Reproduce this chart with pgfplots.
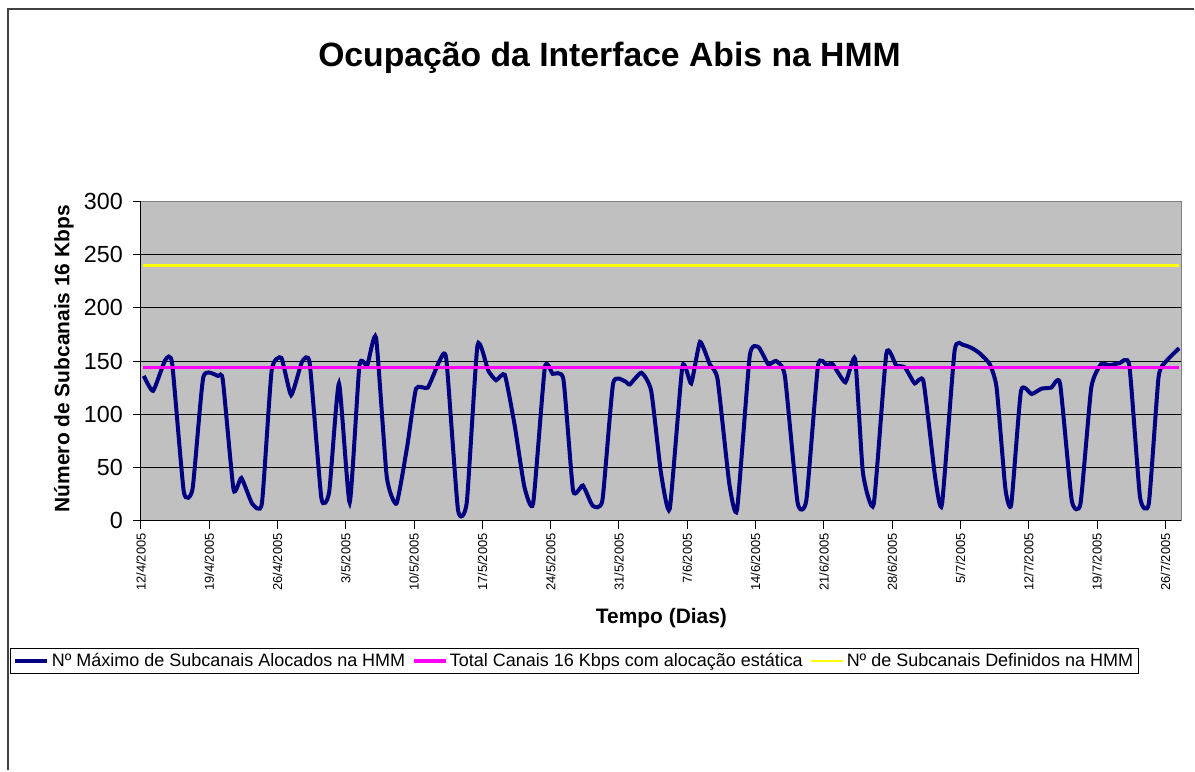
\documentclass[border=0pt]{standalone}
\usepackage{fontspec}
\setmainfont{Liberation Sans}
\usepackage{pgfplots}
\usepackage{pgfplotstable}
\pgfplotsset{compat=1.18}
\definecolor{navyc}{RGB}{0,0,128}
\definecolor{plotbg}{RGB}{192,192,192}
\definecolor{framec}{RGB}{64,64,64}
\definecolor{magc}{RGB}{255,0,255}
\definecolor{yelc}{RGB}{255,255,0}

\pgfplotstableread{
x y
0.3 136
1.25 122
2.5 151
3.2 148
4.4 27
5.3 30
6.4 135
7.9 136
8.4 132
9.5 29
10.3 40
11.4 16
12.4 16
13.4 141
14.4 153
15.4 118
16.5 149
17.3 148
18.5 21
19.3 27
20.3 129
21.4 17
22.4 146
23.2 146
24.1 172
25.2 41
26.2 16
27.3 70
28.2 124
29.4 125
30.6 150
31.3 152
32.5 10
33.4 17
34.5 165
35.6 141
36.4 132
37.3 137
38.3 90
39.3 32
40.2 16
41.4 144
42.2 138
43.3 133
44.3 28
45.3 33
46.3 14
47.3 19
48.4 129
49.6 131
50.1 128
51.3 139
52.3 122
53.3 45
54.2 11
55.5 145
56.4 129
57.3 168
58.3 147
59.1 133
60.3 35
61.1 10
62.4 155
63.3 163
64.3 147
65.1 150
66.0 136
67.3 17
68.2 19
69.4 146
70.3 146
70.9 147
72.2 130
73.2 152
74.0 45
75.1 15
76.4 157
77.4 146
78.3 144
79.3 129
80.2 131
81.4 41
82.1 15
83.4 160
84.3 165
85.2 162
86.0 157
87.0 147
87.7 125
88.6 30
89.2 15
90.2 122
91.3 119
92.3 124
93.3 125
94.2 129
95.4 19
96.3 16
97.4 125
98.4 147
99.3 146
100.3 148
101.3 146
102.4 22
103.3 16
104.3 135
105.1 150
106.4 162
}\maxdata

\pgfplotstableread{
x y
0.2 144
106.4 144
}\staticdata

\pgfplotstableread{
x y
0.2 240
106.4 240
}\defdata

\begin{document}
\begin{tikzpicture}
\path (0,0) rectangle (896.25pt,578.25pt);
\draw[framec, line width=1.5pt] (6pt,0pt) -- (6pt,571.5pt) -- (896.25pt,571.5pt);
\node[font=\bfseries\fontsize{25.3}{30}\selectfont] at (457.5pt,535pt) {Ocupação da Interface Abis na HMM};
\node[font=\bfseries\fontsize{15.7}{19}\selectfont] at (496.5pt,114pt) {Tempo (Dias)};
\node[font=\bfseries\fontsize{15.7}{19}\selectfont, rotate=90] at (48pt,309pt) {Número de Subcanais 16 Kbps};
\begin{axis}[
  at={(105.75pt,187.5pt)}, anchor=south west,
  width=780.75pt, height=239.5pt, scale only axis,
  xmin=0, xmax=106.6, ymin=0, ymax=300,
  ytick={0,50,...,300},
  xtick={0,7,...,105},
  xticklabels={12/4/2005,19/4/2005,26/4/2005,3/5/2005,10/5/2005,17/5/2005,24/5/2005,31/5/2005,7/6/2005,14/6/2005,21/6/2005,28/6/2005,5/7/2005,12/7/2005,19/7/2005,26/7/2005},
  ymajorgrids, grid style={black, line width=0.6pt},
  axis background/.style={fill=plotbg},
  axis line style={draw=gray, line width=0.75pt},
  tick align=outside, xtick pos=bottom, ytick pos=left,
  major tick length=6pt,
  tick style={black, line width=0.75pt},
  xticklabel style={rotate=90, anchor=east, font=\fontsize{9.7}{11}\selectfont},
  yticklabel style={font=\fontsize{17.5}{20}\selectfont, xshift=-4pt},
  /pgf/number format/assume math mode=true,
  legend columns=3,
  legend cell align=left,
  legend style={at={(-0.1258,-0.44)}, anchor=west, draw=black, line width=0.75pt,
    font=\fontsize{13.5}{16}\selectfont, inner sep=2pt,
    /tikz/every even column/.append style={column sep=3pt}},
  legend image code/.code={\draw[#1] (0pt,0pt) -- (24pt,0pt);},
  clip=false,
]
\addplot[navyc, line width=3pt, smooth, tension=0.3] table[x=x,y=y] {\maxdata};
\addlegendentry{Nº Máximo de Subcanais Alocados na HMM}
\addplot[magc, line width=2.5pt] table[x=x,y=y] {\staticdata};
\addlegendentry{Total Canais 16 Kbps com alocação estática}
\addplot[yelc, line width=2pt] table[x=x,y=y] {\defdata};
\addlegendentry{Nº de Subcanais Definidos na HMM}
\draw[black, line width=0.75pt] (rel axis cs:0,1) -- (rel axis cs:0,0) -- (rel axis cs:1,0);
\end{axis}
\end{tikzpicture}
\end{document}
